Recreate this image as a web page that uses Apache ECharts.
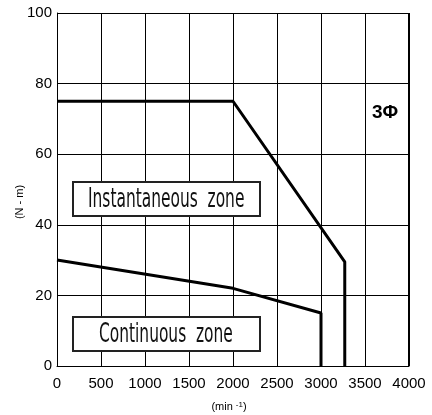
<!DOCTYPE html>
<html><head><meta charset="utf-8">
<script src="https://cdn.jsdelivr.net/npm/echarts@6/dist/echarts.min.js"></script>
<style>html,body{margin:0;padding:0;background:#fff}#c{width:432px;height:415px}</style>
</head><body><div id="c"></div>
<script>
const xTicks = [0, 500, 1000, 1500, 2000, 2500, 3000, 3500, 4000];
const yTicks = [0, 20, 40, 60, 80, 100];
const instantaneousSpeed = [0, 2000, 3270, 3270];
const instantaneousTorque = [75, 75, 29.5, 0];
const continuousSpeed = [0, 2000, 3000, 3000];
const continuousTorque = [30, 22, 15, 0];
const zoneLabels = ['Instantaneous  zone', 'Continuous  zone'];
const phaseLabel = '3Φ';
const yAxisName = '(N - m)';

const chart = echarts.init(document.getElementById('c'));
const zip = (a, b) => a.map((v, i) => [v, b[i]]);
const condensed = '"Liberation Sans Narrow","DejaVu Sans Condensed",sans-serif';
function zoneBox(x, y, w, h, text, tx) {
  return [
    {type:'rect', shape:{x:x, y:y, width:w, height:h}, style:{fill:'#fff', stroke:'#222', lineWidth:2}, z:10},
    {type:'text', x:tx, y:y + h/2 + 1, scaleX:0.66, style:{text:text, fill:'#111', font:'26px ' + condensed, textVerticalAlign:'middle', textAlign:'left'}, z:11}
  ];
}
chart.setOption({
  animation:false,
  grid:{left:57, right:23, top:13, bottom:49, containLabel:false, outerBoundsMode:'none'},
  xAxis:{type:'value', min:0, max:4000, interval:500,
    axisLine:{show:true, lineStyle:{color:'#000', width:1}},
    axisTick:{show:false},
    axisLabel:{color:'#000', fontSize:15, fontFamily:'Arial, "Liberation Sans"', margin:10, formatter:v => String(v)},
    splitLine:{show:true, lineStyle:{color:'#000', width:1}}
  },
  yAxis:{type:'value', min:0, max:100, interval:20,
    axisLine:{show:true, lineStyle:{color:'#000', width:1}},
    axisTick:{show:false},
    axisLabel:{color:'#000', fontSize:15, fontFamily:'Arial, "Liberation Sans"', margin:5, formatter:v => String(v)},
    splitLine:{show:true, lineStyle:{color:'#000', width:1}}
  },
  series:[
    {type:'line', data:zip(instantaneousSpeed, instantaneousTorque), symbol:'none', lineStyle:{color:'#000', width:3}, z:5},
    {type:'line', data:zip(continuousSpeed, continuousTorque), symbol:'none', lineStyle:{color:'#000', width:3}, z:5}
  ],
  graphic:[
    ...zoneBox(73, 182, 187, 34, zoneLabels[0], 88),
    ...zoneBox(73, 317, 187, 34, zoneLabels[1], 99),
    {type:'rect', shape:{x:408, y:13, width:1, height:353}, style:{fill:'#000'}, z:3},
    {type:'text', x:372, y:113, style:{text:phaseLabel, fill:'#000', font:'bold 19px Arial, "Liberation Sans"', textVerticalAlign:'middle'}, z:11},
    {type:'text', x:20, y:202, rotation:Math.PI/2, style:{text:yAxisName, fill:'#000', font:'11px Arial, "Liberation Sans"', textAlign:'center', textVerticalAlign:'middle'}, z:11},
    {type:'text', x:229, y:407, style:{text:'{a|(min }{s|-1}{a|)}', fill:'#000', textAlign:'center', textVerticalAlign:'middle',
      rich:{a:{fontSize:11, fill:'#000', fontFamily:'Arial'}, s:{fontSize:8, fill:'#000', fontFamily:'Arial', padding:[0,0,5,0]}}}, z:11}
  ]
});
</script></body></html>
